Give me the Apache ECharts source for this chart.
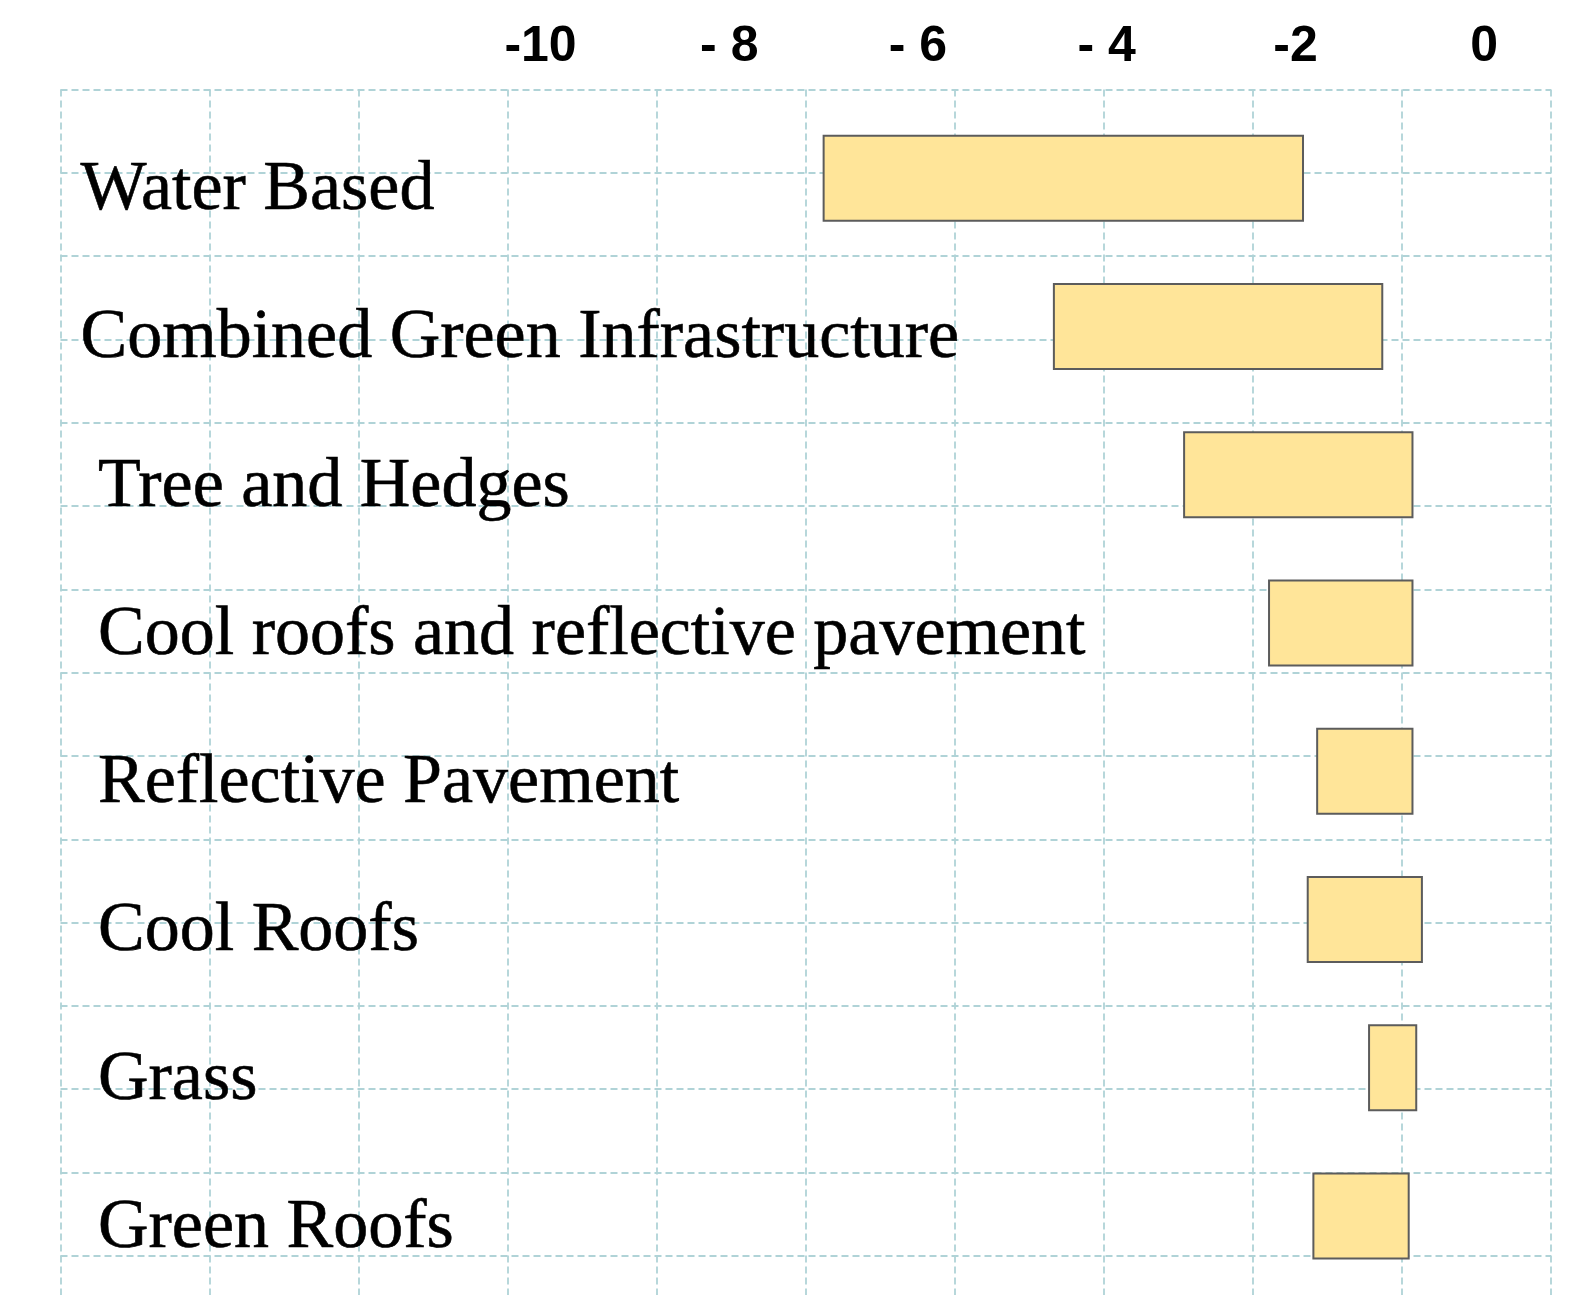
<!DOCTYPE html>
<html>
<head>
<meta charset="utf-8">
<script src="https://cdn.jsdelivr.net/npm/echarts@6/dist/echarts.min.js"></script>
<style>
  html, body { margin: 0; padding: 0; background: #ffffff; }
  #chart { width: 1577px; height: 1295px; }
</style>
</head>
<body>
<div id="chart"></div>
<script>
// Cooling measures (top to bottom); a leading space indents the label
const categories = [
  'Water Based',
  'Combined Green Infrastructure',
  ' Tree and Hedges',
  ' Cool roofs and reflective pavement',
  ' Reflective Pavement',
  ' Cool Roofs',
  ' Grass',
  ' Green Roofs'
];
// Temperature change range for each measure: from rangeStart to rangeEnd
const rangeStart = [-7.00, -4.56, -3.18, -2.28, -1.77, -1.87, -1.22, -1.81];
const rangeEnd   = [-1.92, -1.08, -0.76, -0.76, -0.76, -0.66, -0.72, -0.80];
// Scale labels shown along the top
const tickValues = [-10, -8, -6, -4, -2, 0];
const tickLabels = ['-10', '- 8', '- 6', '- 4', '-2', '0'];

const gridColor = '#b0d3d7';
const dashed = { color: gridColor, width: 1.8, type: [7, 4] };
const hidden = { axisLine: { show: false }, axisTick: { show: false }, axisLabel: { show: false }, splitLine: { show: false } };

const chart = echarts.init(document.getElementById('chart'), null, { renderer: 'canvas' });

chart.setOption({
  animation: false,
  backgroundColor: '#ffffff',
  grid: [
    // background dashed lattice
    { left: 60.5, right: 26, top: 89.5, bottom: -60, outerBoundsMode: 'none', containLabel: false },
    // range bars
    { left: 60.5, right: 26, top: 104, bottom: 5, outerBoundsMode: 'none', containLabel: false },
    // measure names, set slightly lower than the bars
    { left: 60.5, right: 26, top: 116.5, bottom: -7.5, outerBoundsMode: 'none', containLabel: false }
  ],
  xAxis: [
    Object.assign({}, hidden, {
      type: 'value', gridIndex: 0, min: 0, max: 10, interval: 1,
      splitLine: { show: true, lineStyle: dashed }
    }),
    {
      type: 'value', gridIndex: 1, position: 'top',
      min: -15.087, max: 0.708,
      axisLine: { show: false }, axisTick: { show: false },
      splitLine: { show: false },
      axisLabel: {
        customValues: tickValues,
        formatter: function (v) {
          const i = tickValues.findIndex(t => Math.abs(t - v) < 1e-6);
          return i >= 0 ? tickLabels[i] : '';
        },
        fontFamily: 'Liberation Sans',
        fontWeight: 'bold',
        fontSize: 50,
        color: '#000000',
        verticalAlign: 'middle',
        margin: 56.6
      }
    },
    Object.assign({}, hidden, { type: 'value', gridIndex: 2, min: 0, max: 1 })
  ],
  yAxis: [
    Object.assign({}, hidden, {
      type: 'value', gridIndex: 0, inverse: true, min: 0, max: 15.19, interval: 1,
      splitLine: { show: true, lineStyle: dashed }
    }),
    Object.assign({}, hidden, {
      type: 'category', gridIndex: 1, inverse: true, data: categories
    }),
    {
      type: 'category', gridIndex: 2, inverse: true, data: categories,
      axisLine: { show: false }, axisTick: { show: false }, splitLine: { show: false },
      axisLabel: {
        inside: true,
        interval: 0,
        margin: 20,
        align: 'left',
        verticalAlign: 'middle',
        fontFamily: 'Liberation Serif',
        fontSize: 70,
        color: '#000000',
        textBorderColor: '#000000',
        textBorderWidth: 0.6
      }
    }
  ],
  series: [
    {
      type: 'custom',
      xAxisIndex: 1,
      yAxisIndex: 1,
      data: categories.map((c, i) => [rangeStart[i], rangeEnd[i], i]),
      encode: { x: [0, 1], y: 2 },
      renderItem: function (params, api) {
        const a = api.coord([api.value(0), api.value(2)]);
        const b = api.coord([api.value(1), api.value(2)]);
        const h = 85;
        return {
          type: 'rect',
          shape: { x: a[0], y: a[1] - h / 2, width: b[0] - a[0], height: h },
          style: { fill: '#ffe599', stroke: '#5c5c5c', lineWidth: 2 }
        };
      }
    }
  ]
});
</script>
</body>
</html>
